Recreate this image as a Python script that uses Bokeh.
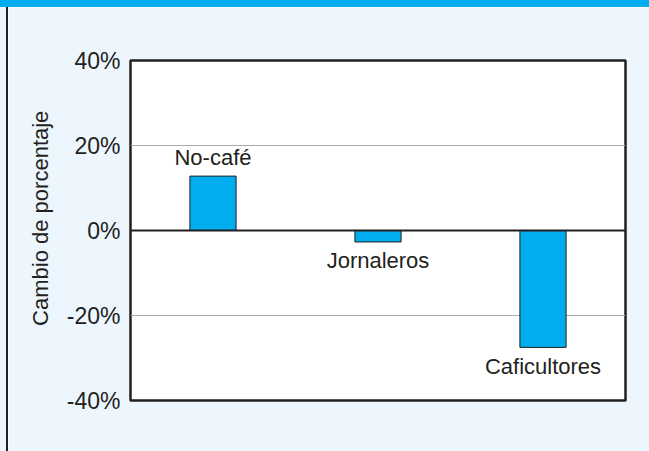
import math
from bokeh.plotting import figure
from bokeh.models import (FixedTicker, PrintfTickFormatter, Span, Div,
                          ColumnDataSource, FactorRange, Range1d)
from bokeh.layouts import column, row
from bokeh.embed import file_html
from bokeh.resources import INLINE
from bokeh.core.properties import value

# ---- data ----
categories = ["No-café", "Jornaleros", "Caficultores"]
changes = [12.8, -2.7, -27.5]
y_ticks = [-40, -20, 0, 20, 40]
grid_ticks = [-20, 20]
y_label = "Cambio de porcentaje"

# ---- styles ----
BG = "#EEF6FD"
CYAN = "#00AEEF"
INK = "#231F20"
FONT = "Liberation Sans"

src = ColumnDataSource(dict(
    cat=categories,
    val=changes,
    off=[-19 if v >= 0 else 19 for v in changes],
))

p = figure(x_range=FactorRange(factors=categories), y_range=Range1d(-40, 40),
           width=641, height=444, output_backend="svg", toolbar_location=None,
           min_border_left=122, min_border_right=24, min_border_top=53,
           min_border_bottom=51, background_fill_color="white",
           border_fill_color=BG, margin=0)
p.outline_line_color = INK
p.outline_line_width = 2.5
p.outline_line_alpha = 1.0

p.xaxis.visible = False
p.xgrid.visible = False

ya = p.yaxis[0]
ya.ticker = FixedTicker(ticks=y_ticks)
ya.formatter = PrintfTickFormatter(format="%d%%")
ya.axis_line_color = None
ya.major_tick_line_color = None
ya.minor_tick_line_color = None
ya.major_tick_in = 0
ya.major_tick_out = 0
ya.major_label_standoff = 10
ya.major_label_text_font = FONT
ya.major_label_text_font_size = "23px"
ya.major_label_text_color = INK
ya.axis_label = "\u00a0\u00a0\u00a0\u00a0" + y_label
ya.axis_label_standoff = 11
ya.axis_label_text_font = FONT
ya.axis_label_text_font_size = "22px"
ya.axis_label_text_font_style = "normal"
ya.axis_label_text_color = INK

p.ygrid.ticker = FixedTicker(ticks=grid_ticks)
p.ygrid.grid_line_color = "#ABABAB"
p.ygrid.grid_line_width = 1

p.vbar(x="cat", top="val", width=0.28, source=src,
       fill_color=CYAN, line_color=INK, line_width=1)

p.add_layout(Span(location=0, dimension="width", line_color=INK, line_width=2))

p.text(x="cat", y="val", text="cat", y_offset="off", source=src,
       text_align="center", text_baseline="middle",
       text_font=value(FONT), text_font_size="22px", text_color=INK)

band = Div(text="", width=649, height=7, margin=0,
           styles={"background-color": CYAN})
gutter = Div(text="", width=6, height=444, margin=0,
             styles={"background-color": BG})
rule = Div(text="", width=2, height=444, margin=0,
           styles={"background-color": INK})
layout = column(band, row(gutter, rule, p, spacing=0), spacing=0)

html = file_html(layout, INLINE)
html = html.replace("<head>", "<head><style>body{margin:0;}</style>", 1)
open("out.html", "w").write(html)
